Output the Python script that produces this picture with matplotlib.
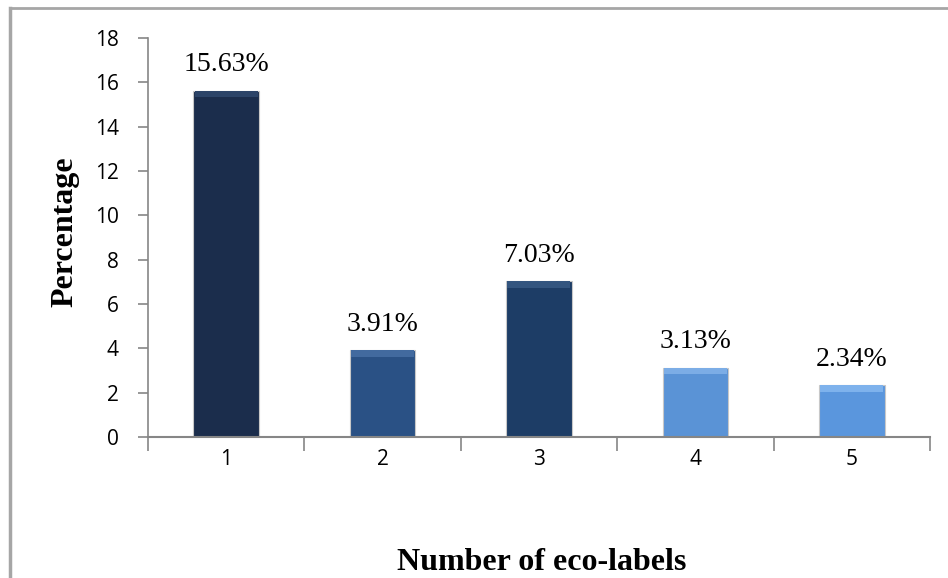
import matplotlib.pyplot as plt
from matplotlib.lines import Line2D

# data
categories = ['1', '2', '3', '4', '5']
values = [15.63, 3.91, 7.03, 3.13, 2.34]
labels = ['15.63%', '3.91%', '7.03%', '3.13%', '2.34%']
colors = ['#1b2d4c', '#2a5185', '#1d3d66', '#5a93d6', '#5a96dd']
tops = ['#2c4468', '#426a9f', '#33557f', '#7cadE6', '#7eb2ec']

fig = plt.figure(figsize=(9.48, 5.78), dpi=100)
ax = fig.add_axes([0.156, 0.244, 0.825, 0.690])

x = list(range(1, len(categories) + 1))
w = 0.42
ax.bar(x, values, width=w, color=colors, edgecolor='#c8c8c8', linewidth=0.8, zorder=2)
# lighter bevel at the top of each bar
ax.bar(x, [0.3] * len(x), bottom=[v - 0.3 for v in values], width=w * 0.96,
       color=tops, linewidth=0, zorder=3)

for xi, v, lab in zip(x, values, labels):
    ax.text(xi, v + 0.6, lab, ha='center', va='bottom',
            fontsize=20, family='Liberation Serif')

ax.set_xlim(0.5, 5.5)
ax.set_ylim(0, 18)
ax.set_yticks(range(0, 19, 2))
ax.set_xticks(x)
ax.set_xticklabels(categories)
ax.set_xticks([i + 0.5 for i in range(0, 6)], minor=True)
ax.tick_params(axis='x', which='major', length=0, pad=9)
ax.tick_params(axis='x', which='minor', length=10, color='#868686', width=1.2)
ax.tick_params(axis='y', length=7, color='#868686', width=1.2, pad=14)
for t in ax.get_xticklabels() + ax.get_yticklabels():
    t.set_fontfamily('Open Sans')
    t.set_fontsize(15)

for s in ['top', 'right']:
    ax.spines[s].set_visible(False)
ax.spines['left'].set_color('#868686')
ax.spines['bottom'].set_color('#868686')
ax.spines['left'].set_linewidth(1.2)
ax.spines['bottom'].set_linewidth(1.5)

fig.text(0.069, 0.60, 'Percentage', rotation=90, ha='center', va='center',
         fontsize=23, fontweight='bold', family='Liberation Serif')
fig.text(0.571, 0.026, 'Number of eco-labels', ha='center', va='center',
         fontsize=23, fontweight='bold', family='Liberation Serif')

# outer frame (chart cut from a larger one)
fig.add_artist(Line2D([10 / 948, 1], [1 - 8 / 578, 1 - 8 / 578], color='#a6a6a6', lw=2))
fig.add_artist(Line2D([10 / 948, 10 / 948], [0, 1 - 8 / 578], color='#a6a6a6', lw=2.5))

fig.savefig('out.png', dpi=100)
